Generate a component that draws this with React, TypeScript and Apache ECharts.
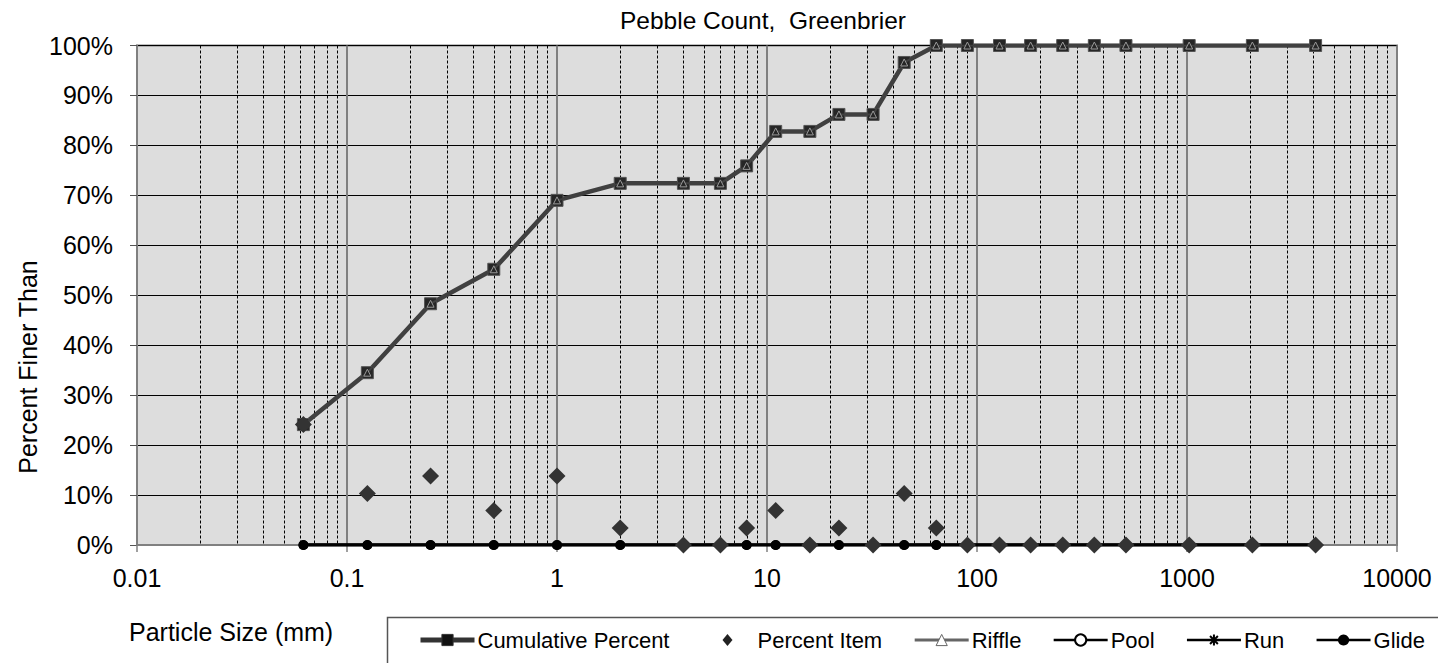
import React, { useEffect, useRef } from "react";
import * as echarts from "echarts";

const sizes = [0.062, 0.125, 0.25, 0.5, 1, 2, 4, 6, 8, 11, 16, 22, 32, 45, 64, 90, 128, 180, 256, 362, 512, 1024, 2048, 4096];
const cumulativePercent = [24.1, 34.5, 48.3, 55.2, 69.0, 72.4, 72.4, 72.4, 75.9, 82.8, 82.8, 86.2, 86.2, 96.6, 100, 100, 100, 100, 100, 100, 100, 100, 100, 100];
const percentItem = [24.1, 10.3, 13.8, 6.9, 13.8, 3.4, 0, 0, 3.4, 6.9, 0, 3.4, 0, 10.3, 3.4, 0, 0, 0, 0, 0, 0, 0, 0, 0];
const riffle = [24.1, 34.5, 48.3, 55.2, 69.0, 72.4, 72.4, 72.4, 75.9, 82.8, 82.8, 86.2, 86.2, 96.6, 100, 100, 100, 100, 100, 100, 100, 100, 100, 100];
const pool = [0, 0, 0, 0, 0, 0, 0, 0, 0, 0, 0, 0, 0, 0, 0, 0, 0, 0, 0, 0, 0, 0, 0, 0];
const run = [0, 0, 0, 0, 0, 0, 0, 0, 0, 0, 0, 0, 0, 0, 0, 0, 0, 0, 0, 0, 0, 0, 0, 0];
const glide = [0, 0, 0, 0, 0, 0, 0, 0, 0, 0, 0, 0, 0, 0, 0, 0, 0, 0, 0, 0, 0, 0, 0, 0];

const xTickLabels = ["0.01", "0.1", "1", "10", "100", "1000", "10000"];
const seriesNames = ["Cumulative Percent", "Percent Item", "Riffle", "Pool", "Run", "Glide"];
const titleText = "Pebble Count,  Greenbrier";
const xAxisTitle = "Particle Size (mm)";
const yAxisTitle = "Percent Finer Than";

const FONT = "'Liberation Sans', Arial, sans-serif";
const ASTERISK = "path://M0,5L10,5M5,0L5,10M1.5,1.5L8.5,8.5M8.5,1.5L1.5,8.5";
const LEGEND_DIAMOND = "path://M0,0M54,14M27,1L32,7L27,13L22,7Z";

const pairs = (arr: number[]) => sizes.map((s, i) => [s, arr[i]]);

const minorGrid: number[][] = [];
for (let d = -2; d <= 3; d++) {
  for (let m = 2; m <= 9; m++) {
    minorGrid.push([Number((m * Math.pow(10, d)).toPrecision(6)), 0]);
  }
}

export default function App() {
  const ref = useRef<HTMLDivElement>(null);
  useEffect(() => {
    if (!ref.current) return;
    const chart = echarts.init(ref.current, null, { renderer: "svg" });
    chart.setOption({
      animation: false,
      backgroundColor: "#ffffff",
      textStyle: { fontFamily: FONT },
      title: {
        text: titleText,
        left: 758,
        textAlign: "center",
        top: 3,
        textStyle: { fontFamily: FONT, fontSize: 24.5, fontWeight: "normal", color: "#000" },
      },
      grid: {
        left: 137,
        right: 41,
        top: 45.5,
        bottom: 118,
        show: true,
        backgroundColor: "#dddddd",
        borderColor: "#808080",
        borderWidth: 2,
      },
      legend: {
        left: 413,
        top: 624,
        itemWidth: 54,
        itemHeight: 14,
        itemGap: 31,
        padding: 5,
        symbolKeepAspect: true,
        textStyle: { fontFamily: FONT, fontSize: 22, color: "#000", padding: [0, 0, 0, -2] },
        data: [
          { name: seriesNames[0], lineStyle: { color: "#333", width: 5 }, itemStyle: { color: "#111", borderColor: "#333", borderWidth: 1 } },
          { name: seriesNames[1], icon: LEGEND_DIAMOND, itemStyle: { color: "#222", borderWidth: 0 } },
          { name: seriesNames[2], itemStyle: { color: "#fff", borderColor: "#666", borderWidth: 1 }, lineStyle: { color: "#666", width: 3 } },
          { name: seriesNames[3], lineStyle: { color: "#000", width: 2.5 } },
          { name: seriesNames[4], lineStyle: { color: "#000", width: 2.5 } },
          { name: seriesNames[5], lineStyle: { color: "#000", width: 2.5 } },
        ],
      },
      xAxis: {
        type: "log",
        logBase: 10,
        min: 0.01,
        max: 10000,
        axisLine: { show: true, onZero: false, lineStyle: { color: "#808080", width: 2 } },
        axisTick: { show: true, length: 7, lineStyle: { color: "#808080", width: 1.5 } },
        axisLabel: {
          fontFamily: FONT,
          fontSize: 25,
          color: "#000",
          margin: 20,
          formatter: (v: number) => xTickLabels[Math.round(Math.log10(v)) + 2],
        },
        splitLine: { show: true, lineStyle: { color: "#808080", width: 2 } },
      },
      yAxis: {
        type: "value",
        min: 0,
        max: 100,
        interval: 10,
        axisLine: { show: true, lineStyle: { color: "#808080", width: 2 } },
        axisTick: { show: true, length: 7, lineStyle: { color: "#555", width: 1 } },
        axisLabel: { fontFamily: FONT, fontSize: 25, color: "#000", margin: 24, formatter: "{value}%" },
        splitLine: { show: true, lineStyle: { color: "#000", width: 1 } },
      },
      graphic: [
        {
          type: "text",
          x: 28,
          y: 367,
          rotation: Math.PI / 2,
          style: { text: yAxisTitle, fontFamily: FONT, fontSize: 25, fill: "#000", align: "center", verticalAlign: "middle" },
        },
        {
          type: "text",
          left: 129,
          top: 619,
          style: { text: xAxisTitle, fontFamily: FONT, fontSize: 25, fill: "#000" },
        },
        {
          type: "rect",
          shape: { x: 387.5, y: 617.5, width: 1200, height: 100 },
          style: { fill: "none", stroke: "#555", lineWidth: 1.5 },
          z: -1,
        },
      ],
      series: [
        {
          type: "custom",
          name: "minor",
          silent: true,
          z: 1,
          data: minorGrid,
          renderItem: (params: any, api: any) => {
            const x = api.value(0);
            const top = api.coord([x, 100]);
            const bot = api.coord([x, 0]);
            const px = Math.round(top[0]) + 0.5;
            return {
              type: "line",
              shape: { x1: px, y1: top[1], x2: px, y2: bot[1] },
              style: { stroke: "#000", lineWidth: 1, lineDash: [3, 2] },
            };
          },
        },
        {
          name: seriesNames[0],
          type: "line",
          data: pairs(cumulativePercent),
          z: 3,
          symbol: "rect",
          symbolSize: 12,
          lineStyle: { color: "#404040", width: 4.5 },
          itemStyle: { color: "#262626", borderColor: "#555", borderWidth: 1 },
        },
        {
          name: seriesNames[1],
          type: "scatter",
          data: pairs(percentItem),
          z: 6,
          symbol: "diamond",
          symbolSize: 17,
          itemStyle: { color: "#333333", opacity: 1 },
        },
        {
          name: seriesNames[2],
          type: "line",
          data: pairs(riffle),
          z: 4,
          symbol: "triangle",
          symbolSize: 7,
          lineStyle: { color: "#404040", width: 2 },
          itemStyle: { color: "#262626", borderColor: "#999", borderWidth: 1 },
        },
        {
          name: seriesNames[3],
          type: "line",
          data: pairs(pool),
          z: 5,
          symbol: "emptyCircle",
          symbolSize: 8,
          lineStyle: { color: "#000", width: 3 },
          itemStyle: { color: "#000", borderColor: "#000", borderWidth: 1.5 },
        },
        {
          name: seriesNames[4],
          type: "line",
          data: pairs(run),
          z: 5,
          symbol: ASTERISK,
          symbolSize: 8,
          lineStyle: { color: "#000", width: 3 },
          itemStyle: { color: "#000", borderColor: "#000", borderWidth: 1.5 },
        },
        {
          name: seriesNames[5],
          type: "line",
          data: pairs(glide),
          z: 5,
          symbol: "circle",
          symbolSize: 10,
          lineStyle: { color: "#000", width: 3 },
          itemStyle: { color: "#000" },
        },
      ],
    });
    return () => chart.dispose();
  }, []);
  return <div ref={ref} style={{ position: "absolute", left: 0, top: 0, width: 1438, height: 663 }} />;
}
